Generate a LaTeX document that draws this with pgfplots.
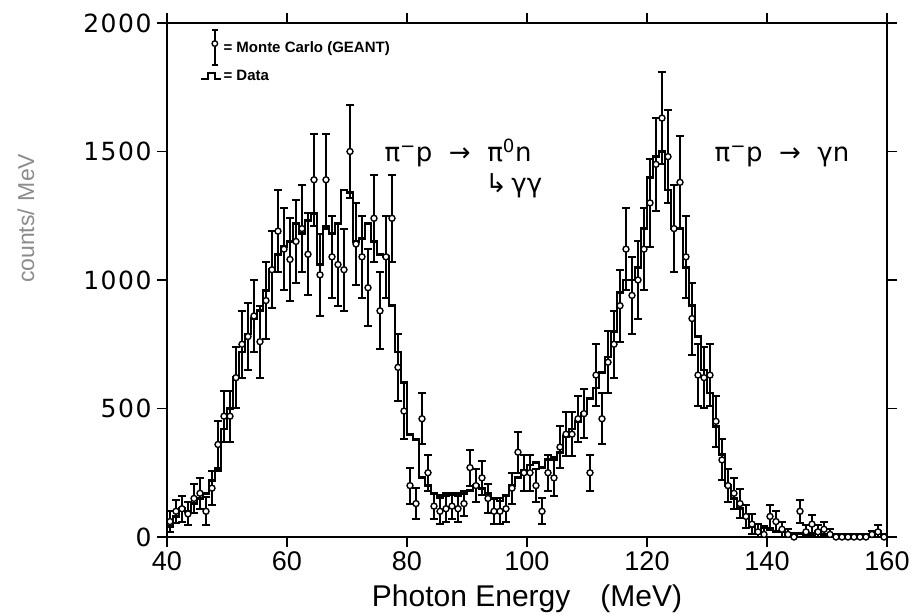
\documentclass[border=0pt]{standalone}
\usepackage{pgfplots}
\pgfplotsset{compat=1.18}
\usetikzlibrary{calc}
\usepackage{fontspec}
\setmainfont{Liberation Sans}
\newfontfamily\dejavu{DejaVu Sans}
\newfontfamily\ytickfont[LetterSpace=6]{DejaVu Sans}
\begin{document}
\begin{tikzpicture}
\begin{axis}[
  name=ax,
  width=720pt, height=514pt, scale only axis,
  xmin=40, xmax=160, ymin=0, ymax=2000,
  xtick={40,60,...,160}, ytick={0,500,...,2000},
  tick align=outside, major tick length=10pt,
  every tick/.style={black, line width=1.6pt},
  axis line style={line width=1.8pt},
  /pgf/number format/assume math mode=true,
  /pgf/number format/set thousands separator={},
  xticklabel style={font=\fontsize{27}{27}\selectfont, yshift=-1pt},
  yticklabel style={font=\ytickfont\fontsize{25}{25}\selectfont, xshift=-2pt},
  xlabel={Photon Energy\quad (MeV)},
  xlabel style={font=\fontsize{30}{30}\selectfont, yshift=-7pt},
  legend style={at={(rel axis cs:0.045,0.988)}, anchor=north west, draw=none, fill=none,
    font=\bfseries\fontsize{15}{15}\selectfont, row sep=3pt, inner sep=0pt,
    cells={anchor=west}},
]
\addlegendimage{legend image code/.code={
  \draw[line width=2pt] (0.3cm,-0.6cm) -- (0.3cm,0.6cm);
  \draw[line width=2pt] (0.2cm,0.6cm) -- (0.4cm,0.6cm);
  \draw[line width=2pt] (0.2cm,-0.6cm) -- (0.4cm,-0.6cm);
  \draw[line width=1.4pt, fill=white] (0.3cm,0) circle (2.8pt);}}
\addlegendentry{= Monte Carlo (GEANT)}
\addlegendimage{legend image code/.code={
  \draw[line width=2pt] (-0.2cm,-0.1cm) -- (0.05cm,-0.1cm) -- (0.05cm,0.12cm) -- (0.3cm,0.12cm) -- (0.3cm,-0.1cm) -- (0.5cm,-0.1cm);}}
\addlegendentry{= Data}

% Data histogram (1 MeV bins, value holds from x to x+1)
\addplot[const plot, black, line width=2.8pt] coordinates {
(40,40) (41,80) (42,110) (43,100) (44,130) (45,150) (46,170) (47,220) (48,260) (49,420)
(50,500) (51,620) (52,720) (53,790) (54,850) (55,880) (56,960) (57,1040) (58,1100) (59,1130)
(60,1150) (61,1220) (62,1180) (63,1230) (64,1260) (65,1060) (66,1200) (67,1180) (68,1220) (69,1350)
(70,1340) (71,1150) (72,1160) (73,1220) (74,1150) (75,1100) (76,1090) (77,900) (78,720) (79,600)
(80,400) (81,380) (82,230) (83,200) (84,170) (85,160) (86,170) (87,165) (88,170) (89,170)
(90,180) (91,200) (92,190) (93,170) (94,150) (95,140) (96,160) (97,200) (98,230) (99,260)
(100,280) (101,290) (102,270) (103,300) (104,310) (105,330) (106,390) (107,420) (108,450) (109,480)
(110,540) (111,580) (112,640) (113,700) (114,800) (115,950) (116,1000) (117,1000) (118,1050) (119,1200)
(120,1400) (121,1480) (122,1500) (123,1350) (124,1200) (125,1200) (126,1050) (127,900) (128,780) (129,650)
(130,560) (131,430) (132,320) (133,200) (134,150) (135,110) (136,80) (137,40) (138,20) (139,40)
(140,30) (141,20) (142,20) (143,10) (144,10) (145,15) (146,10) (147,10) (148,20) (149,10)
(150,5) (151,5) (152,5) (153,5) (154,5) (155,5) (156,5) (157,10) (158,20) (159,5) (160,5)
};

% Monte Carlo points with error bars
\addplot[only marks, mark=*, mark size=3pt,
  mark options={fill=white, draw=black, line width=1.4pt},
  error bars/.cd, y dir=both, y explicit,
  error bar style={line width=2.2pt, black},
  error mark options={rotate=90, mark size=4pt, line width=2pt, black}]
 table[x=x, y=y, y error=e] {
x y e
40.5 60 40
41.5 100 45
42.5 110 50
43.5 90 45
44.5 150 55
45.5 170 60
46.5 100 55
47.5 190 65
48.5 360 90
49.5 470 100
50.5 470 100
51.5 620 120
52.5 750 130
53.5 780 130
54.5 860 140
55.5 760 140
56.5 920 150
57.5 1040 150
58.5 1190 160
59.5 1120 160
60.5 1080 160
61.5 1150 160
62.5 1200 170
63.5 1100 160
64.5 1390 180
65.5 1020 160
66.5 1390 180
67.5 1090 160
68.5 1060 160
69.5 1040 160
70.5 1500 180
71.5 1140 160
72.5 1090 160
73.5 970 150
74.5 1240 170
75.5 880 150
76.5 1090 160
77.5 1240 170
78.5 660 130
79.5 490 110
80.5 200 70
81.5 130 60
82.5 460 100
83.5 250 70
84.5 120 50
85.5 100 50
86.5 110 50
87.5 120 50
88.5 110 50
89.5 130 50
90.5 270 70
91.5 200 65
92.5 230 65
93.5 150 55
94.5 100 50
95.5 100 50
96.5 110 50
97.5 190 60
98.5 330 80
99.5 250 70
100.5 250 70
101.5 200 65
102.5 100 50
103.5 250 70
104.5 230 70
105.5 350 80
106.5 400 85
107.5 400 85
108.5 460 90
109.5 480 95
110.5 250 70
111.5 630 120
112.5 460 100
113.5 680 120
114.5 750 130
115.5 900 140
116.5 1120 160
117.5 940 150
118.5 1000 150
119.5 1120 160
120.5 1300 170
121.5 1450 180
122.5 1630 180
123.5 1480 180
124.5 1200 170
125.5 1380 180
126.5 1090 160
127.5 850 140
128.5 630 120
129.5 620 120
130.5 630 120
131.5 450 100
132.5 300 80
133.5 200 65
134.5 170 60
135.5 130 55
136.5 80 45
137.5 50 40
138.5 20 30
139.5 10 25
140.5 80 45
141.5 60 40
142.5 30 30
143.5 10 20
144.5 0 15
145.5 100 45
146.5 20 25
147.5 50 35
148.5 20 25
149.5 30 30
150.5 10 20
151.5 0 10
152.5 0 10
153.5 0 10
154.5 0 10
155.5 0 10
156.5 0 10
157.5 10 15
158.5 20 25
159.5 0 10
};

\node[font=\dejavu\fontsize{26}{26}\selectfont, anchor=base] at (axis cs:88.5,1460)
  {π\textsuperscript{−}p\ \ →\ \ π\textsuperscript{0}n};
\node[font=\dejavu\fontsize{26}{26}\selectfont, anchor=base] at (axis cs:97.8,1340)
  {↳\,γγ};
\node[font=\dejavu\fontsize{26}{26}\selectfont, anchor=base] at (axis cs:142.5,1460)
  {π\textsuperscript{−}p\ \ →\ \ γn};
\end{axis}
\node[rotate=90, text=black!45, font=\fontsize{23}{23}\selectfont]
  at ($(ax.south west)!0.62!(ax.north west) + (-141pt,0)$) {counts/\,\,MeV};
\pgfresetboundingbox
\path ([shift={(-167pt,-78pt)}]ax.south west) rectangle ([shift={(24pt,23pt)}]ax.north east);
\end{tikzpicture}
\end{document}
